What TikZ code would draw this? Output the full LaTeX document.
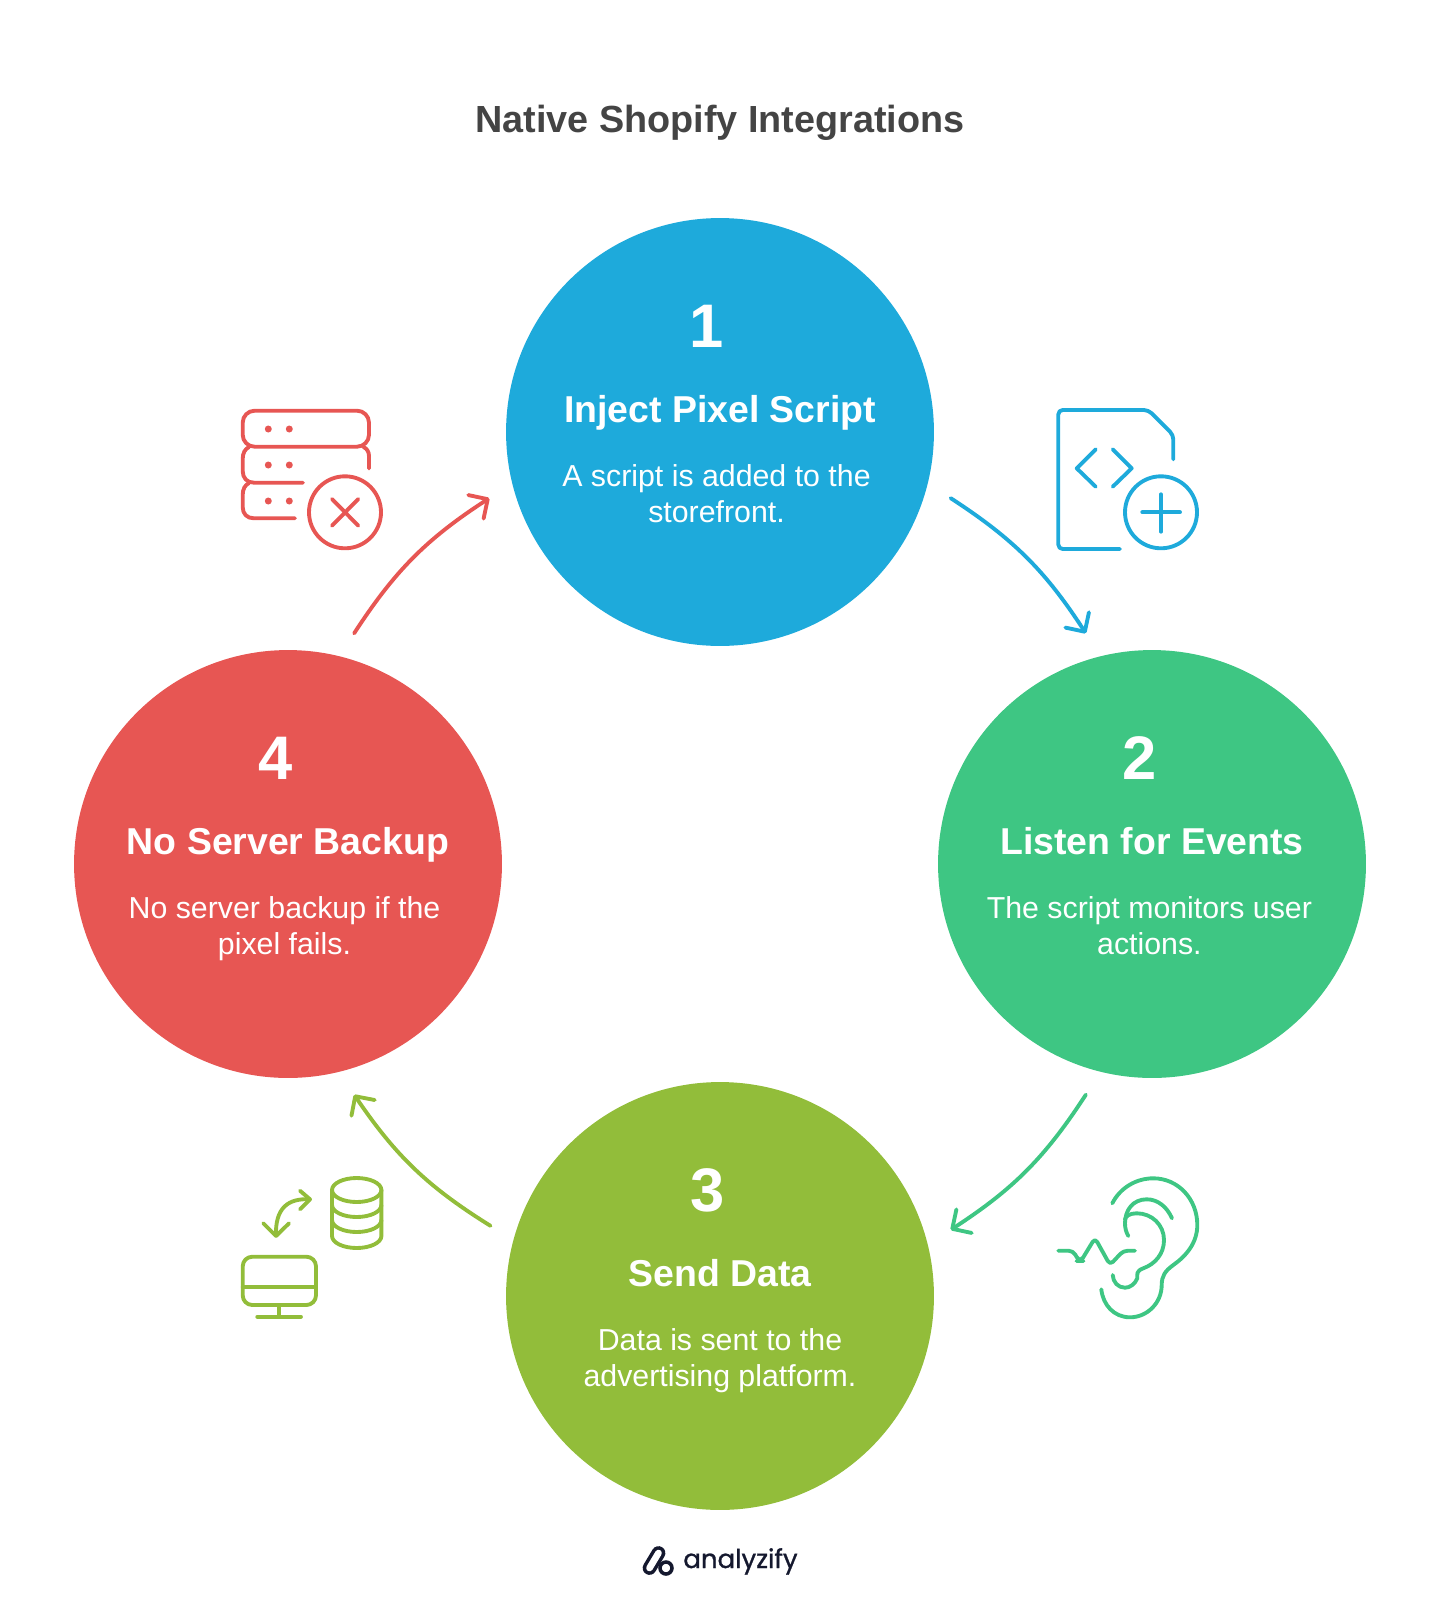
\documentclass[tikz,border=0pt]{standalone}
\usepackage{fontspec}
\setmainfont{Liberation Sans}
\newfontfamily\logofont[FakeBold=1]{Poppins}
\usetikzlibrary{positioning,calc,arrows.meta,bending}
\definecolor{cblue}{HTML}{1EAADB}
\definecolor{cgreen}{HTML}{3EC683}
\definecolor{colive}{HTML}{92BD3A}
\definecolor{cred}{HTML}{E75653}
\definecolor{ctitle}{HTML}{444444}
\definecolor{clogo}{HTML}{14182E}
\tikzset{stepc/.style={circle, minimum size=8.56cm, inner sep=0pt, outer sep=0.52cm, fill=#1}}
\tikzset{numtxt/.style={text=white, font=\fontsize{35}{40}\selectfont\bfseries, text height=24pt, text depth=0pt, inner sep=0pt}}
\tikzset{headtxt/.style={text=white, font=\fontsize{21.3}{25}\selectfont\bfseries, text height=16pt, text depth=4pt, inner sep=0pt}}
\tikzset{desctxt/.style={text=white, font=\fontsize{17.25}{20.3}\selectfont, align=center, text height=12pt, text depth=4pt, inner sep=0pt}}
\tikzset{arr/.style={draw=#1, line width=2.2pt, line cap=round, -{Straight Barb[length=8pt, width=16pt, round, quick]}}}
\tikzset{ico/.style={draw=#1, line width=2.2pt, line cap=round, line join=round}}

\begin{document}
\begin{tikzpicture}[x=0.02cm, y=-0.02cm]
	\useasboundingbox (0,0) rectangle (1441,1606);
	\node[text=ctitle, font=\fontsize{21.5}{26}\selectfont\bfseries] (title) at (720,123) {Native Shopify Integrations};
	%
	\node[stepc=cblue] (c1) at (720,432) {};
	\node[stepc=cgreen] (c2) at (1152,864) {};
	\node[stepc=colive] (c3) at (720,1296) {};
	\node[stepc=cred] (c4) at (288,864) {};
	%
	\node[headtxt] (h1) at ($(c1)+(0,-20)$) {Inject Pixel Script};
	\node[numtxt, above=26.5pt of h1, xshift=-7.5pt] (n1) {1};
	\node[desctxt, below=40.5pt of h1, xshift=-2pt] (d1) {A script is added to the\\storefront.};
	%
	\node[headtxt] (h2) at ($(c2)+(0,-20)$) {Listen for Events};
	\node[numtxt, above=26.5pt of h2, xshift=-7pt] (n2) {2};
	\node[desctxt, below=40.5pt of h2, xshift=-1.5pt] (d2) {The script monitors user\\actions.};
	%
	\node[headtxt] (h3) at ($(c3)+(0,-20)$) {Send Data};
	\node[numtxt, above=26.5pt of h3, xshift=-7pt] (n3) {3};
	\node[desctxt, below=40.5pt of h3] (d3) {Data is sent to the\\advertising platform.};
	%
	\node[headtxt] (h4) at ($(c4)+(0,-20)$) {No Server Backup};
	\node[numtxt, above=26.5pt of h4, xshift=-7pt] (n4) {4};
	\node[desctxt, below=40.5pt of h4, xshift=-2pt] (d4) {No server backup if the\\pixel fails.};
	%
	\draw[arr=cblue] (c1.-16.5) to[bend left=12] (c2.106);
	\draw[arr=cgreen] (c2.-106) to[bend left=12] (c3.16);
	\draw[arr=colive] (c3.163.5) to[bend left=12] (c4.-74);
	\draw[arr=cred] (c4.74) to[bend left=12] (c1.196);
	%
	% red server icon
	\draw[ico=cred, rounded corners=6.8pt] (242.7,410.7) rectangle (369,446.7);
	\draw[ico=cred] (363.5,447) .. controls (367,448.5) and (369,452) .. (369,456) -- (369,468.5);
	\draw[ico=cred] (249,447) .. controls (245,449) and (242.7,453) .. (242.7,459) -- (242.7,471) .. controls (242.7,478) and (247,482.7) .. (254,482.7) -- (303,482.7);
	\draw[ico=cred] (249,483) .. controls (245,485) and (242.7,489) .. (242.7,495) -- (242.7,507) .. controls (242.7,514) and (247,518.3) .. (254,518.3) -- (295,518.3);
	\fill[cred] (268.3,429) circle (3.5) (289.3,429) circle (3.5) (268.3,465) circle (3.5) (289.3,465) circle (3.5) (268.3,501) circle (3.5) (289.3,501) circle (3.5);
	\draw[ico=cred] (345,512.3) circle (36);
	\draw[ico=cred] (332,499) -- (358.3,525.7) (358.3,499) -- (332,525.7);
	%
	% blue file icon
	\draw[ico=cblue, rounded corners=2.5pt] (1120,549) -- (1058.3,549) -- (1058.3,410) -- (1148.3,410) -- (1173.3,435) -- (1173.3,459.3);
	\draw[ico=cblue] (1095.7,449.3) -- (1076.7,468.3) -- (1095.7,486.7);
	\draw[ico=cblue] (1112.7,449.3) -- (1131.7,468.3) -- (1112.7,486.7);
	\draw[ico=cblue] (1161,512.3) circle (36);
	\draw[ico=cblue] (1142.3,512.3) -- (1180,512.3) (1161,494.3) -- (1161,531.7);
	%
	% green ear icon
	\draw[ico=cgreen] (1112.3,1203.3) .. controls (1120,1188) and (1136,1178.3) .. (1153.3,1178.3) .. controls (1178,1178.3) and (1197.3,1199) .. (1197.3,1225) .. controls (1197.3,1243) and (1186,1256) .. (1173.3,1265) .. controls (1165,1271) and (1161.7,1276) .. (1161.7,1285) .. controls (1161.7,1303) and (1147,1317.3) .. (1130,1317.3) .. controls (1114,1317.3) and (1103,1305) .. (1101.3,1289.3);
	\draw[ico=cgreen] (1172,1218.3) .. controls (1167,1207) and (1158,1199.3) .. (1146.7,1199.3) .. controls (1133,1199.3) and (1125,1210) .. (1125,1223.3) .. controls (1125,1228) and (1126,1232) .. (1128.3,1236);
	\draw[ico=cgreen] (1125,1220) .. controls (1125,1216) and (1130,1213.3) .. (1136.7,1213.3) .. controls (1152,1213.3) and (1164,1225) .. (1164,1240) .. controls (1164,1254) and (1155,1264) .. (1143.3,1268.3) .. controls (1136,1271) and (1137.3,1274) .. (1137.3,1278.3) .. controls (1135,1284) and (1130,1287.7) .. (1125,1287.7) .. controls (1118,1287.7) and (1113,1282) .. (1112.7,1275);
	\draw[ico=cgreen, rounded corners=2.5pt] (1058.3,1250.7) -- (1073,1250.7) -- (1079,1261) -- (1081,1261) -- (1095,1238) -- (1110,1265) -- (1123.3,1250.7) -- (1135,1250.7);
	%
	% olive data icon
	\draw[ico=colive] (356.7,1190) ellipse [x radius=24.7, y radius=12];
	\draw[ico=colive] (332,1190) -- (332,1236) arc [start angle=180, end angle=0, x radius=24.7, y radius=12] -- (381.4,1190);
	\draw[ico=colive] (332,1205) arc [start angle=180, end angle=0, x radius=24.7, y radius=12];
	\draw[ico=colive] (332,1220) arc [start angle=180, end angle=0, x radius=24.7, y radius=12];
	\draw[ico=colive] (300,1190.7) -- (310,1199.3) -- (300,1209.3);
	\draw[ico=colive] (310,1199.3) .. controls (288,1198) and (275,1208) .. (276,1236);
	\draw[ico=colive] (263.3,1223.3) -- (276,1236) -- (289,1223.3);
	\draw[ico=colive, rounded corners=5.5pt] (242.7,1256.7) rectangle (316,1305);
	\draw[ico=colive] (242.7,1286.7) -- (316,1286.7);
	\draw[ico=colive] (279,1305) -- (279,1316.7) (257.3,1316.7) -- (301,1316.7);
	%
	% logo
	\draw[clogo, line width=2pt, double=white, double distance=3.8pt, line cap=round] (649.5,1568) -- (658.5,1553);
	\draw[clogo, line width=2pt] (666,1568) circle (6);
	\node[text=clogo, font=\logofont\fontsize{14.8}{18}\selectfont, anchor=base west, inner sep=0pt] (logo) at (683,1568) {analyzify};
\end{tikzpicture}
\end{document}
